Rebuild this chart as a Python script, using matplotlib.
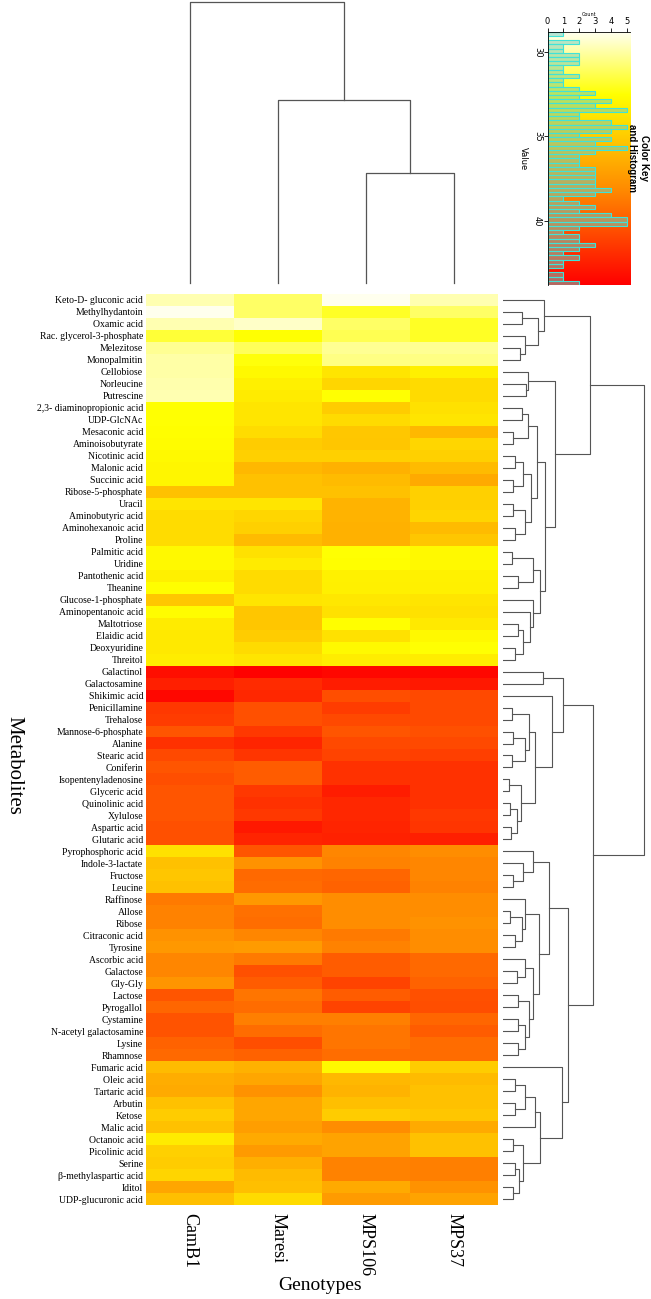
import numpy as np
import matplotlib
matplotlib.use("Agg")
import matplotlib.pyplot as plt
from matplotlib.colors import LinearSegmentedColormap, Normalize

genotypes = ["CamB1", "Maresi", "MPS106", "MPS37"]

metabolites = [
    "Keto-D- gluconic acid", "Methylhydantoin", "Oxamic acid", "Rac. glycerol-3-phosphate",
    "Melezitose", "Monopalmitin", "Cellobiose", "Norleucine", "Putrescine",
    "2,3- diaminopropionic acid", "UDP-GlcNAc", "Mesaconic acid", "Aminoisobutyrate",
    "Nicotinic acid", "Malonic acid", "Succinic acid", "Ribose-5-phosphate", "Uracil",
    "Aminobutyric acid", "Aminohexanoic acid", "Proline", "Palmitic acid", "Uridine",
    "Pantothenic acid", "Theanine", "Glucose-1-phosphate", "Aminopentanoic acid",
    "Maltotriose", "Elaidic acid", "Deoxyuridine", "Threitol", "Galactinol",
    "Galactosamine", "Shikimic acid", "Penicillamine", "Trehalose", "Mannose-6-phosphate",
    "Alanine", "Stearic acid", "Coniferin", "Isopentenyladenosine", "Glyceric acid",
    "Quinolinic acid", "Xylulose", "Aspartic acid", "Glutaric acid", "Pyrophosphoric acid",
    "Indole-3-lactate", "Fructose", "Leucine", "Raffinose", "Allose", "Ribose",
    "Citraconic acid", "Tyrosine", "Ascorbic acid", "Galactose", "Gly-Gly", "Lactose",
    "Pyrogallol", "Cystamine", "N-acetyl galactosamine", "Lysine", "Rhamnose",
    "Fumaric acid", "Oleic acid", "Tartaric acid", "Arbutin", "Ketose", "Malic acid",
    "Octanoic acid", "Picolinic acid", "Serine", "\u03b2-methylaspartic acid", "Iditol",
    "UDP-glucuronic acid",
]

camb1 = [29.8, 28.9, 29.8, 31.7, 30.3, 30.0, 30.0, 29.9, 29.8, 32.5, 32.5, 32.6, 32.7,
         32.8, 33.0, 33.0, 35.5, 33.8, 34.2, 34.2, 34.2, 32.8, 32.8, 33.3, 32.6, 35.2,
         32.7, 33.5, 33.6, 33.6, 33.4, 43.2, 42.5, 43.5, 41.5, 41.3, 40.3, 41.8, 40.8,
         40.3, 40.6, 40.3, 40.3, 40.3, 40.5, 40.5, 34.0, 35.5, 35.3, 35.5, 38.8, 38.5,
         38.5, 37.8, 37.5, 38.3, 38.3, 37.6, 40.3, 39.6, 40.4, 40.4, 39.8, 39.5, 35.8,
         36.5, 36.6, 35.5, 35.0, 35.5, 33.5, 34.8, 35.0, 34.6, 36.8, 35.6]
maresi = [31.0, 31.0, 29.5, 32.5, 31.2, 32.4, 32.8, 33.3, 33.5, 33.8, 33.8, 34.2, 35.0,
          34.8, 36.0, 35.5, 35.5, 33.8, 34.5, 34.8, 35.8, 34.0, 33.5, 34.3, 34.3, 33.8,
          35.3, 35.3, 35.0, 34.3, 33.8, 43.7, 42.0, 42.2, 40.5, 40.5, 41.5, 42.3, 41.6,
          40.0, 40.0, 41.5, 41.8, 41.5, 42.8, 42.3, 40.3, 37.8, 39.5, 39.4, 37.5, 39.2,
          39.3, 38.3, 37.3, 38.8, 40.5, 40.0, 39.0, 39.4, 38.6, 39.4, 40.6, 39.8, 36.3,
          36.8, 37.8, 36.8, 36.8, 37.2, 36.6, 37.4, 36.4, 35.8, 35.6, 34.3]
mps106 = [28.9, 32.0, 31.0, 31.3, 30.3, 30.5, 33.8, 34.5, 32.5, 35.0, 34.3, 35.2, 35.3,
          34.8, 36.3, 35.8, 35.5, 36.2, 36.2, 36.3, 36.3, 32.5, 32.6, 33.2, 33.3, 33.7,
          34.0, 32.6, 34.0, 32.8, 33.4, 43.5, 42.6, 40.6, 41.3, 40.8, 40.3, 40.8, 41.0,
          41.8, 41.8, 42.6, 42.2, 42.2, 42.3, 42.4, 38.3, 38.5, 39.6, 39.8, 38.0, 38.0,
          38.0, 38.8, 38.5, 40.0, 40.0, 41.0, 40.0, 41.0, 38.6, 39.0, 39.0, 39.3, 32.8,
          36.0, 36.2, 35.6, 35.0, 38.0, 37.0, 37.0, 38.5, 38.5, 36.6, 37.3]
mps37 = [29.8, 31.0, 32.0, 32.0, 30.3, 30.5, 33.3, 34.3, 34.3, 34.0, 33.8, 36.0, 34.5,
         34.8, 35.8, 36.6, 34.8, 34.8, 34.6, 35.8, 35.3, 32.8, 32.8, 33.2, 33.3, 33.8,
         34.0, 33.6, 32.8, 32.5, 33.4, 43.5, 42.8, 40.8, 40.8, 40.8, 40.5, 40.8, 41.2,
         41.8, 41.8, 41.8, 41.8, 41.5, 41.6, 42.5, 38.0, 38.3, 38.3, 38.5, 38.0, 38.0,
         37.8, 38.0, 38.0, 39.5, 39.5, 39.8, 40.5, 40.6, 39.6, 40.0, 39.4, 39.4, 35.0,
         35.8, 35.5, 35.5, 35.3, 36.6, 35.5, 35.5, 38.6, 38.6, 37.8, 37.0]

# histogram of the colour key, 60 bins of 0.25 from 28.8 upward
hist_start, hist_width = 28.8, 0.25
hist_counts = [1, 0, 2, 1, 1, 2, 2, 2, 1, 1, 2, 1, 1, 2, 3, 2, 4, 3, 5, 2,
               2, 4, 5, 4, 2, 4, 3, 5, 3, 2, 2, 2, 3, 3, 3, 3, 3, 4, 3, 1,
               2, 3, 2, 4, 5, 5, 2, 1, 2, 2, 3, 2, 1, 2, 1, 1, 0, 1, 1, 2]

# dendrograms: (left, right, merge height); ints are leaves (row / column index)
col_tree = (0, (1, (2, 3, 110), 183), 281)

top_a = (0, ((1, 2, 19), (3, (4, 5, 17), 22), 35), 41)
top_b1 = (6, (7, 8, 23), 25)
top_b2a = (((9, 10, 19), (11, 12, 10), 25),
           (((13, 14, 12), (15, 16, 10), 20), ((17, 18, 10), (19, 20, 12), 22), 28), 34)
top_b2b = (((21, 22, 9), (23, 24, 15), 30),
           (25, (26, ((27, 28, 15), (29, 30, 12), 20), 27), 30), 37)
top_tree = (top_a, (top_b1, (top_b2a, top_b2b, 42), 52), 87)

red_tree = ((31, 32, 40),
            (33, (((34, 35, 9), ((36, 37, 10), (38, 39, 9), 22), 26),
                  ((40, 41, 6), ((42, 43, 7), (44, 45, 8), 14), 18), 32), 49), 60)
orange_tree = ((46, (47, (48, 49, 10), 20), 30),
               ((50, ((51, 52, 7), (53, 54, 12), 19), 22),
                ((55, (56, 57, 14), 22), ((58, 59, 15), ((60, 61, 15), (62, 63, 15), 22), 26), 30),
                36), 46)
yellow_tree = (64, ((((65, 66, 12), (67, 68, 12), 22), 69, 32),
                    ((70, 71, 10), ((72, 73, 12), (74, 75, 10), 16), 20), 37), 59)
bottom_tree = (red_tree, (orange_tree, yellow_tree, 65), 90)

row_tree = (top_tree, bottom_tree, 141)


def tree_segments(node):
    # returns (leaf position, height, list of u-shapes)
    if isinstance(node, int):
        return float(node), 0.0, []
    left, right, h = node
    pl, hl, sl = tree_segments(left)
    pr, hr, sr = tree_segments(right)
    return (pl + pr) / 2.0, h, sl + sr + [(pl, pr, hl, hr, h)]


data = np.array([camb1, maresi, mps106, mps37]).T
vmin, vmax = 28.8, 43.8

cmap = LinearSegmentedColormap.from_list(
    "heat", [(0.0, "#FFFFF2"), (0.25, "#FFFF00"), (0.62, "#FF8C00"), (1.0, "#FF0000")])
norm = Normalize(vmin=vmin, vmax=vmax)

W, H = 651, 1299
fig = plt.figure(figsize=(W / 100, H / 100), dpi=100)


def px_axes(x0, y0, x1, y1):
    return fig.add_axes([x0 / W, 1 - y1 / H, (x1 - x0) / W, (y1 - y0) / H])


serif = ["Liberation Serif", "DejaVu Serif"]
sans = ["Liberation Sans", "DejaVu Sans"]
line_col = "#555555"

# heatmap
ax = px_axes(146, 294, 498, 1205)
ax.imshow(data, cmap=cmap, norm=norm, aspect="auto", interpolation="nearest")
ax.set_xticks(range(len(genotypes)))
ax.set_xticklabels(genotypes, rotation=-90, family=serif, fontsize=13, va="top")
ax.set_yticks(range(len(metabolites)))
ax.set_yticklabels(metabolites, family=serif, fontsize=7)
ax.tick_params(length=0, pad=2)
ax.tick_params(axis="x", pad=6)
for s in ax.spines.values():
    s.set_visible(False)
fig.text(320 / W, 1 - 1285 / H, "Genotypes", family=serif, fontsize=14,
         ha="center", va="center")
fig.text(14 / W, 1 - 765 / H, "Metabolites", rotation=-90, family=serif, fontsize=15,
         ha="center", va="center")

# column dendrogram
axc = px_axes(146, 0, 498, 285)
_, _, segs = tree_segments(col_tree)
for p0, p1, h0, h1, h in segs:
    axc.plot([p0, p0, p1, p1], [h0, h, h, h1], color=line_col, lw=0.9)
axc.set_xlim(-0.5, 3.5)
axc.set_ylim(-2, 283)
axc.axis("off")

# row dendrogram
axr = px_axes(503, 294, 646, 1205)
_, _, segs = tree_segments(row_tree)
for p0, p1, h0, h1, h in segs:
    axr.plot([h0, h, h, h1], [p0, p0, p1, p1], color=line_col, lw=0.8)
axr.set_xlim(0, 143)
axr.set_ylim(len(metabolites) - 0.5, -0.5)
axr.axis("off")

# color key and histogram
axk = px_axes(547.5, 31.7, 630, 285)
grad = np.linspace(vmin, vmax, 256).reshape(-1, 1)
axk.imshow(grad, cmap=cmap, norm=norm, aspect="auto",
           extent=[0, 5.2, vmax, vmin], zorder=0)
bin_lo = hist_start + hist_width * np.arange(len(hist_counts))
axk.barh(bin_lo, hist_counts, height=hist_width, align="edge",
         color=(0.45, 0.8, 0.75, 0.5), edgecolor="#3FE3D8", linewidth=0.8, zorder=2)
axk.set_xlim(0, 5.2)
axk.set_ylim(vmax, vmin)
axk.xaxis.tick_top()
axk.set_xticks(range(6))
axk.set_yticks([30, 35, 40])
axk.tick_params(axis="x", labelsize=6, length=3, width=0.6, pad=1)
axk.tick_params(axis="y", labelsize=6, length=3, width=0.6, pad=1, labelrotation=-90)
for lab in axk.get_yticklabels():
    lab.set_va("center")
axk.spines["right"].set_visible(False)
axk.spines["bottom"].set_visible(False)
axk.spines["top"].set_linewidth(0.6)
axk.spines["left"].set_linewidth(0.6)
axk.set_xlabel("Count", fontsize=3.5, labelpad=1)
axk.xaxis.set_label_position("top")
axk.set_ylabel("Value", fontsize=6, rotation=-90, labelpad=10)
axk.text(1.1, 0.5, "Color Key\nand Histogram", transform=axk.transAxes, rotation=-90,
         family=sans, fontsize=7, fontweight="bold", ha="center", va="center",
         linespacing=1.2)

fig.savefig("out.png", dpi=100)
